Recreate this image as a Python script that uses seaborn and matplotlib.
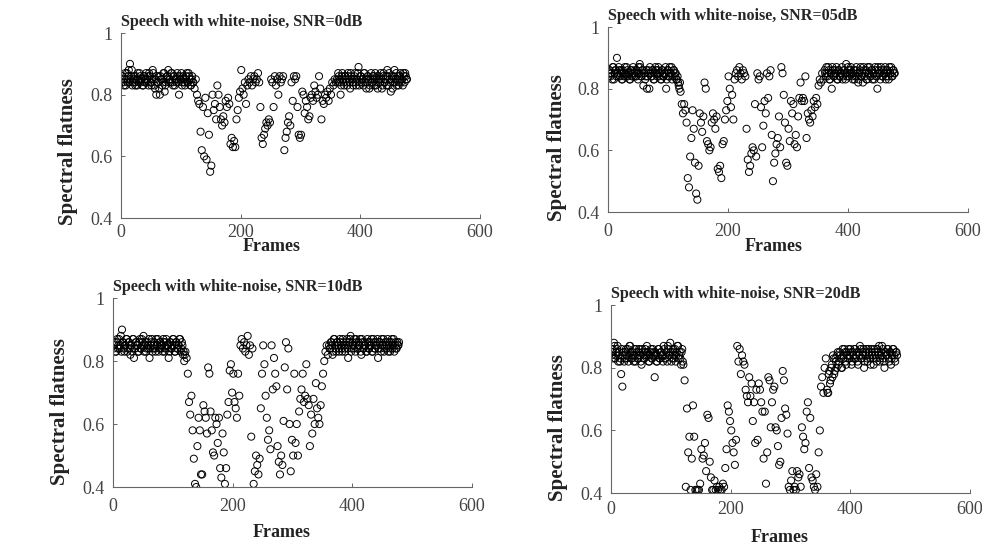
import numpy as np
import pandas as pd
import seaborn as sns
import matplotlib.pyplot as plt

# frame index of every plotted point (every second frame of ~478)
frames = list(range(1, 478, 2))
# the in-between frames of the steady parts at both ends
band_frames = list(range(2, 121, 2)) + list(range(362, 479, 2))

# spectral flatness x100
snr_0db = [
    84, 86, 83, 87, 85, 84, 88, 90, 86, 83, 85, 84, 86, 83, 85, 87, 84, 85, 83, 86,
    85, 84, 86, 87, 84, 83, 88, 85, 82, 80, 84, 86, 80, 85, 83, 87, 81, 84, 86, 88,
    85, 84, 87, 83, 86, 85, 84, 86, 80, 85, 87, 84, 85, 83, 86, 84, 87, 85, 83, 86,
    84, 82, 85, 80, 78, 77, 68, 62, 76, 60, 79, 59, 74, 67, 55, 57, 80, 75, 77, 72,
    83, 80, 76, 72, 70, 73, 71, 78, 76, 79, 77, 64, 66, 63, 65, 63, 72, 75, 79, 81,
    88, 82, 80, 84, 77, 83, 85, 84, 86, 83, 85, 86, 84, 85, 87, 84, 76, 66, 64, 67,
    69, 71, 70, 72, 71, 85, 84, 76, 86, 83, 85, 80, 86, 84, 85, 86, 62, 66, 68, 71,
    73, 70, 84, 78, 86, 85, 86, 76, 67, 66, 67, 81, 80, 74, 78, 76, 72, 73, 79, 80,
    78, 83, 81, 79, 80, 86, 82, 72, 78, 77, 80, 79, 81, 78, 82, 80, 84, 83, 85, 84,
    85, 87, 84, 80, 86, 85, 83, 86, 84, 87, 85, 82, 86, 84, 85, 87, 83, 85, 89, 84,
    86, 85, 83, 87, 85, 84, 86, 82, 85, 84, 86, 83, 87, 85, 82, 86, 84, 85, 83, 87,
    84, 86, 88, 83, 85, 81, 86, 84, 88, 85, 83, 86, 84, 87, 85, 83, 86, 87, 85,
]
snr_0db_band = [
    86, 84, 85, 83, 87, 86, 84, 85, 88, 84, 86, 83, 85, 87, 84, 86, 85, 83, 86, 84,
    87, 85, 83, 86, 84, 85, 87, 83, 85, 86, 84, 82, 86, 85, 84, 87, 83, 85, 86, 84,
    85, 87, 84, 86, 83, 85, 87, 84, 86, 85, 83, 86, 84, 85, 87, 84, 86, 83, 85, 84,
    84, 86, 85, 83, 87, 84, 86, 85, 83, 86, 84, 87, 85, 83, 86, 84, 85, 87, 83, 86,
    84, 85, 87, 84, 82, 86, 85, 83, 87, 84, 86, 85, 83, 86, 84, 85, 87, 82, 86, 84,
    85, 83, 86, 87, 84, 85, 82, 86, 84, 87, 85, 83, 86, 84, 85, 87, 84, 86, 85,
]
snr_05db = [
    84, 86, 85, 83, 87, 85, 86, 90, 84, 86, 85, 83, 86, 84, 85, 87, 84, 85, 83, 86,
    85, 84, 86, 84, 85, 87, 88, 84, 86, 81, 85, 84, 80, 86, 80, 85, 84, 86, 83, 87,
    85, 86, 84, 85, 83, 86, 84, 85, 80, 86, 84, 87, 85, 83, 86, 84, 85, 83, 82, 80,
    79, 75, 72, 75, 73, 69, 51, 48, 58, 64, 73, 67, 56, 46, 44, 55, 72, 69, 66, 71,
    82, 80, 63, 62, 60, 61, 69, 72, 70, 67, 71, 54, 53, 55, 51, 62, 63, 70, 73, 76,
    84, 80, 74, 78, 70, 83, 85, 86, 84, 87, 85, 83, 86, 85, 84, 67, 57, 53, 55, 59,
    61, 60, 75, 58, 85, 83, 84, 74, 61, 68, 76, 72, 85, 77, 84, 86, 65, 50, 56, 59,
    62, 64, 71, 61, 87, 85, 78, 69, 56, 55, 67, 63, 76, 72, 75, 62, 65, 61, 71, 77,
    82, 76, 77, 76, 84, 64, 72, 70, 69, 73, 71, 76, 74, 77, 75, 81, 83, 82, 85, 83,
    86, 84, 85, 87, 83, 85, 80, 86, 84, 85, 87, 83, 86, 84, 85, 83, 86, 85, 88, 84,
    86, 85, 87, 84, 85, 83, 86, 84, 82, 85, 87, 84, 82, 86, 85, 83, 87, 85, 84, 86,
    83, 85, 87, 84, 80, 86, 85, 87, 84, 86, 85, 83, 86, 84, 87, 85, 84, 86, 85,
]
snr_05db_band = [
    86, 84, 85, 87, 83, 86, 84, 85, 87, 84, 86, 83, 85, 87, 84, 86, 85, 83, 86, 84,
    87, 85, 84, 86, 83, 85, 87, 84, 86, 85, 83, 86, 84, 85, 87, 84, 86, 83, 85, 86,
    84, 87, 85, 83, 86, 84, 85, 87, 83, 86, 84, 85, 87, 84, 86, 85, 83, 84, 81, 82,
    85, 87, 84, 86, 83, 85, 87, 84, 86, 85, 83, 86, 84, 85, 87, 84, 86, 83, 85, 87,
    84, 86, 85, 83, 86, 84, 87, 85, 83, 86, 84, 85, 87, 84, 86, 83, 85, 87, 84, 86,
    85, 83, 86, 84, 87, 85, 83, 86, 84, 85, 87, 84, 86, 83, 85, 87, 84, 86, 85,
]
snr_10db = [
    84, 86, 83, 87, 85, 84, 88, 90, 86, 83, 85, 87, 84, 86, 82, 85, 87, 81, 84, 86,
    85, 83, 87, 84, 86, 88, 85, 83, 86, 84, 81, 85, 87, 84, 86, 83, 85, 87, 84, 86,
    85, 83, 86, 84, 87, 85, 81, 86, 84, 85, 87, 83, 86, 84, 85, 87, 83, 86, 82, 80,
    83, 81, 76, 67, 63, 69, 58, 49, 41, 40, 53, 62, 58, 44, 44, 66, 64, 62, 57, 78,
    76, 64, 58, 51, 50, 62, 60, 54, 62, 46, 43, 57, 51, 41, 46, 63, 67, 77, 79, 70,
    76, 67, 65, 62, 76, 69, 85, 87, 84, 86, 83, 85, 88, 82, 85, 56, 84, 41, 45, 50,
    47, 44, 49, 65, 76, 85, 79, 69, 62, 55, 58, 52, 85, 71, 81, 76, 72, 53, 48, 44,
    50, 47, 61, 78, 86, 71, 84, 60, 45, 55, 50, 76, 54, 60, 50, 64, 68, 71, 76, 67,
    69, 79, 68, 66, 53, 63, 57, 68, 60, 73, 65, 62, 60, 66, 72, 76, 80, 83, 85, 82,
    85, 84, 86, 82, 87, 85, 83, 86, 84, 87, 85, 83, 86, 84, 85, 87, 81, 86, 88, 84,
    85, 87, 83, 86, 84, 85, 87, 82, 86, 84, 85, 83, 87, 84, 86, 85, 83, 87, 84, 86,
    85, 81, 86, 84, 87, 85, 83, 86, 84, 87, 85, 83, 86, 84, 87, 85, 84, 86, 85,
]
snr_10db_band = [
    85, 83, 86, 84, 87, 85, 83, 86, 84, 85, 87, 83, 86, 84, 85, 83, 87, 84, 86, 85,
    83, 86, 84, 87, 85, 83, 86, 84, 85, 87, 84, 86, 83, 85, 84, 87, 85, 83, 86, 84,
    85, 87, 83, 86, 84, 85, 83, 86, 84, 87, 85, 83, 86, 84, 85, 87, 84, 85, 83, 82,
    84, 86, 85, 83, 87, 84, 86, 85, 83, 86, 84, 87, 85, 83, 86, 84, 85, 87, 83, 86,
    84, 85, 87, 84, 86, 85, 83, 87, 84, 86, 85, 83, 86, 84, 85, 87, 83, 86, 84, 85,
    87, 84, 86, 83, 85, 87, 84, 86, 85, 83, 86, 84, 87, 85, 83, 86, 84, 85, 86,
]
snr_20db = [
    84, 86, 88, 83, 85, 87, 84, 82, 78, 74, 85, 83, 86, 84, 82, 87, 85, 83, 84, 86,
    82, 85, 83, 86, 84, 81, 85, 83, 86, 84, 85, 82, 84, 86, 83, 85, 77, 84, 82, 86,
    83, 85, 84, 82, 86, 83, 85, 87, 84, 88, 82, 85, 83, 86, 84, 87, 83, 85, 81, 86,
    81, 76, 42, 67, 53, 58, 41, 51, 68, 58, 41, 41, 41, 41, 43, 54, 51, 52, 56, 47,
    65, 64, 50, 45, 41, 41, 44, 41, 42, 41, 42, 41, 41, 43, 42, 48, 54, 68, 66, 63,
    60, 56, 53, 49, 57, 87, 82, 86, 78, 84, 82, 81, 73, 71, 69, 77, 71, 75, 63, 69,
    56, 73, 57, 75, 73, 69, 66, 51, 66, 43, 53, 77, 76, 61, 69, 73, 74, 61, 60, 55,
    49, 50, 64, 79, 76, 67, 65, 59, 42, 41, 44, 47, 41, 42, 41, 47, 45, 46, 42, 61,
    58, 54, 56, 66, 69, 48, 64, 45, 44, 42, 41, 46, 42, 53, 60, 74, 77, 72, 80, 83,
    73, 72, 79, 76, 81, 84, 78, 83, 80, 85, 82, 84, 80, 86, 83, 85, 81, 84, 86, 83,
    85, 82, 84, 86, 83, 85, 81, 84, 86, 83, 85, 80, 84, 86, 82, 85, 83, 86, 84, 81,
    85, 83, 86, 84, 82, 85, 87, 83, 80, 85, 84, 86, 82, 85, 83, 86, 84, 82, 85,
]
snr_20db_band = [
    85, 83, 87, 84, 86, 82, 85, 83, 86, 84, 82, 85, 83, 86, 84, 87, 83, 85, 82, 84,
    86, 83, 85, 84, 82, 86, 84, 83, 85, 87, 84, 82, 85, 83, 86, 84, 85, 82, 84, 86,
    83, 85, 84, 87, 83, 85, 82, 86, 84, 85, 83, 86, 84, 82, 85, 87, 84, 83, 85, 82,
    72, 78, 75, 80, 77, 83, 79, 82, 84, 81, 85, 83, 80, 84, 86, 82, 85, 83, 84, 86,
    81, 85, 83, 86, 84, 82, 85, 87, 83, 84, 86, 82, 85, 83, 86, 84, 81, 85, 83, 86,
    84, 82, 85, 87, 83, 84, 86, 82, 85, 84, 86, 83, 85, 81, 84, 86, 83, 85, 84,
]
titles = ["Speech with white-noise, SNR=0dB", "Speech with white-noise, SNR=05dB",
          "Speech with white-noise, SNR=10dB", "Speech with white-noise, SNR=20dB"]

sns.set_style("ticks")
plt.rcParams["font.family"] = ["Liberation Serif", "DejaVu Serif"]

fig = plt.figure(figsize=(9.82, 5.46), dpi=100)
# axes rectangles and label placement taken from the reference layout
boxes = [[0.1232, 0.6007, 0.3656, 0.3388], [0.6191, 0.6117, 0.3666, 0.3388],
         [0.1151, 0.1080, 0.3656, 0.3460], [0.6222, 0.0970, 0.3656, 0.3440]]
ylab_pos = [(-0.12, 0.36), (-0.114, 0.35), (-0.12, 0.40), (-0.12, 0.35)]
xlab_pos = [(0.42, -0.11), (0.46, -0.143), (0.47, -0.198), (0.47, -0.19)]
xpads = [4, 8, 8, 6]

panels = [(snr_0db, snr_0db_band), (snr_05db, snr_05db_band),
          (snr_10db, snr_10db_band), (snr_20db, snr_20db_band)]
for k, (vals, band) in enumerate(panels):
    ax = fig.add_axes(boxes[k])
    df = pd.DataFrame({"Frames": frames + band_frames,
                       "flatness": np.array(vals + band) / 100})
    sns.scatterplot(data=df, x="Frames", y="flatness", ax=ax, marker="o", s=26,
                    facecolor="none", edgecolor="black", linewidth=0.7)
    ax.set_xlim(0, 600)
    ax.set_ylim(0.4, 1)
    ax.set_xticks([0, 200, 400, 600])
    ax.set_yticks([0.4, 0.6, 0.8, 1.0])
    ax.set_yticklabels(["0.4", "0.6", "0.8", "1"])
    ax.tick_params(direction="in", length=3, width=0.7, colors="#666666",
                   labelcolor="#444444", labelsize=13)
    ax.tick_params(axis="x", pad=xpads[k])
    ax.tick_params(axis="y", pad=6)
    for side in ["top", "right"]:
        ax.spines[side].set_visible(False)
    for side in ["left", "bottom"]:
        ax.spines[side].set_color("#666666")
        ax.spines[side].set_linewidth(0.8)
    ax.set_xlabel("Frames", fontsize=13, fontweight="bold", color="#222222")
    ax.set_ylabel("Spectral flatness", fontsize=15, fontweight="bold", color="#222222")
    ax.xaxis.set_label_coords(*xlab_pos[k])
    ax.yaxis.set_label_coords(*ylab_pos[k])
    ax.set_title(titles[k], loc="left", fontsize=11.6, fontweight="bold", pad=5)

fig.savefig("out.png", dpi=100)
